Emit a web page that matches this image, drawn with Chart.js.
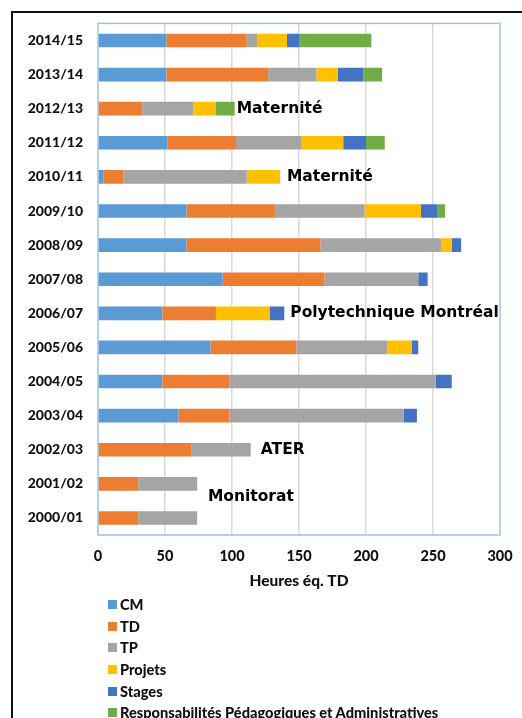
<!DOCTYPE html>
<html>
<head>
<meta charset="UTF-8" />
<script src="https://cdn.jsdelivr.net/npm/chart.js@4"></script>
<style>
  body { margin: 0; background: #fff; overflow: hidden; }
  .frame { position: absolute; left: 11px; top: 11px; width: 700px; height: 900px; border: 2px solid #111; box-sizing: border-box; }
  .wrap { position: absolute; left: 0; top: 0; width: 522px; height: 718px; }
  #legend { position: absolute; left: 108px; top: 594px; margin: 0; padding: 0; list-style: none;
            font: 900 14.6px Lato, sans-serif; color: #111; }
  #legend li { display: flex; align-items: center; height: 21.6px; white-space: nowrap; }
  #legend span.box { display: inline-block; width: 9px; height: 9px; margin-right: 3px; }
</style>
</head>
<body>
<div class="frame"></div>
<div class="wrap">
  <canvas id="chart" width="522" height="718"></canvas>
  <ul id="legend"></ul>
</div>
<script>
// Heures éq. TD par année universitaire
const years = ['2000/01', '2001/02', '2002/03', '2003/04', '2004/05', '2005/06', '2006/07', '2007/08',
               '2008/09', '2009/10', '2010/11', '2011/12', '2012/13', '2013/14', '2014/15'];
const cm      = [0, 0, 0, 60, 48, 84, 48, 93, 66, 66, 4, 52, 0, 51, 51];
const td      = [30, 30, 70, 38, 50, 64, 40, 76, 100, 66, 15, 51, 33, 76, 60];
const tp      = [44, 44, 44, 130, 154, 68, 0, 70, 90, 67, 92, 49, 38, 36, 8];
const projets = [0, 0, 0, 0, 0, 18, 40, 0, 8, 42, 25, 31, 17, 16, 22];
const stages  = [0, 0, 0, 10, 12, 5, 11, 7, 7, 12, 0, 17, 0, 19, 9];
const resp    = [0, 0, 0, 0, 0, 0, 0, 0, 0, 6, 0, 14, 14, 14, 54];
const xTicks  = [0, 50, 100, 150, 200, 250, 300];

// texte placé à droite des barres (x en heures, décalage en rangées)
const notes = [
  { text: 'Maternité', year: '2012/13', x: 103.5, shift: 0 },
  { text: 'Maternité', year: '2010/11', x: 141, shift: 0 },
  { text: 'Polytechnique Montréal', year: '2006/07', x: 143.5, shift: 0 },
  { text: 'ATER', year: '2002/03', x: 121.5, shift: 0 },
  { text: 'Monitorat', year: '2001/02', x: 82, shift: -0.39 }
];

Chart.defaults.font.family = 'Lato, sans-serif';
Chart.defaults.font.weight = '900';
Chart.defaults.font.size = 14;
Chart.defaults.color = '#111';

const series = [
  ['CM', cm, '#5b9bd5'],
  ['TD', td, '#ed7d31'],
  ['TP', tp, '#a5a5a5'],
  ['Projets', projets, '#ffc000'],
  ['Stages', stages, '#4472c4'],
  ['Responsabilités Pédagogiques et Administratives', resp, '#70ad47']
];

const plotFrame = {
  id: 'plotFrame',
  beforeDatasetsDraw(chart) {
    const { ctx, chartArea: a } = chart;
    ctx.save();
    ctx.strokeStyle = '#9dc3e6';
    ctx.lineWidth = 1.5;
    ctx.strokeRect(a.left, a.top, a.right - a.left, a.bottom - a.top);
    ctx.restore();
  }
};

const noteLabels = {
  id: 'noteLabels',
  afterDatasetsDraw(chart) {
    const { ctx, scales } = chart;
    ctx.save();
    ctx.font = 'bold 15.5px "DejaVu Sans"';
    ctx.fillStyle = '#000';
    ctx.textAlign = 'left';
    ctx.textBaseline = 'middle';
    notes.forEach(n => {
      const x = scales.x.getPixelForValue(n.x);
      const y = scales.y.getPixelForValue(years.indexOf(n.year) + n.shift);
      ctx.fillText(n.text, x, y);
    });
    ctx.restore();
  }
};

const htmlLegend = {
  id: 'htmlLegend',
  afterUpdate(chart) {
    const ul = document.getElementById('legend');
    ul.innerHTML = '';
    chart.options.plugins.legend.labels.generateLabels(chart).forEach(item => {
      const li = document.createElement('li');
      const box = document.createElement('span');
      box.className = 'box';
      box.style.background = item.fillStyle;
      li.appendChild(box);
      li.appendChild(document.createTextNode(item.text));
      ul.appendChild(li);
    });
  }
};

new Chart(document.getElementById('chart'), {
  type: 'bar',
  data: {
    labels: years,
    datasets: series.map(([label, data, color]) => ({
      label, data, backgroundColor: color, borderWidth: 0,
      categoryPercentage: 1, barPercentage: 0.4
    }))
  },
  options: {
    indexAxis: 'y',
    responsive: false,
    animation: false,
    layout: { padding: { left: 0, top: 18, right: 22, bottom: 128 } },
    plugins: { legend: { display: false }, tooltip: { enabled: false } },
    scales: {
      x: {
        stacked: true, min: 0, max: 300,
        afterBuildTicks: s => { s.ticks = xTicks.map(v => ({ value: v })); },
        afterFit: s => { s.height = 55; },
        grid: {
          color: c => (c.tick && (c.tick.value === 0 || c.tick.value === 300)) ? 'rgba(0,0,0,0)' : '#d9d9d9',
          lineWidth: 1.5, drawTicks: true, tickLength: 13, tickColor: 'rgba(0,0,0,0)'
        },
        border: { display: false },
        ticks: { padding: 0, font: { size: 14.5 } },
        title: { display: true, text: 'Heures éq. TD', font: { size: 15.5 }, padding: { top: 4, bottom: 0 } }
      },
      y: {
        stacked: true, reverse: true,
        afterFit: s => { s.width = 98; },
        grid: { display: false, drawTicks: false },
        border: { display: false },
        ticks: { padding: 15 }
      }
    }
  },
  plugins: [plotFrame, noteLabels, htmlLegend]
});
</script>
</body>
</html>
